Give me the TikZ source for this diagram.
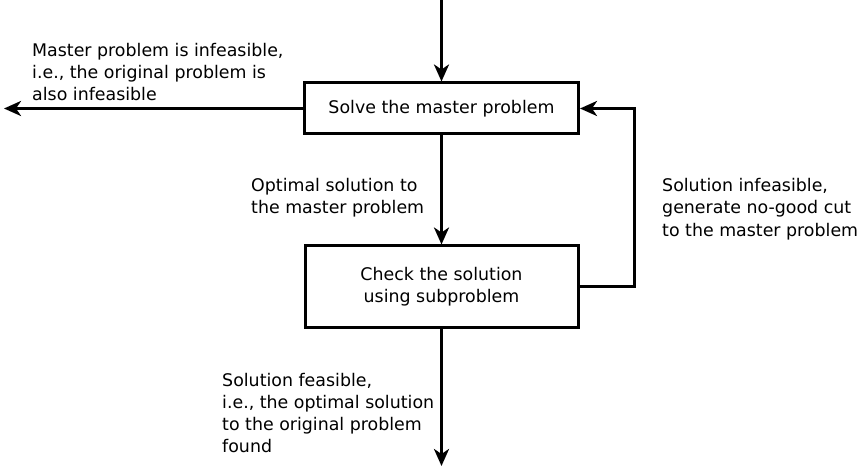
\documentclass[tikz,border=0pt]{standalone}
\usepackage{fontspec}
\setmainfont{DejaVu Sans}
\usetikzlibrary{arrows.meta}
\begin{document}
\begin{tikzpicture}[x=1pt,y=-1pt,
  every node/.style={font=\fontsize{17.4}{22.3}\selectfont},
  procbox/.style={draw,line width=3pt,align=center,inner sep=0pt},
  flow/.style={line width=3pt,-{Stealth[length=17pt,width=15pt,inset=5pt]}},
  note/.style={align=left,inner sep=0pt,anchor=west}]
\useasboundingbox (0,0) rectangle (860,470);
\node[procbox,minimum width=274pt,minimum height=51pt] (solve) at (441.5,108.5) {Solve the master problem};
\node[procbox,minimum width=273pt,minimum height=82pt] (check) at (441.5,287) {Check the solution\\using subproblem};
\coordinate (top) at (441.5,0);
\coordinate (left) at (4,108.5);
\coordinate (bottom) at (441.5,466);
\draw[flow] (top) -- (solve.north);
\draw[flow] (solve.west) -- (left);
\draw[flow] (solve.south) -- (check.north);
\draw[flow] (check.east) -- ++(55,0) |- (solve.east);
\draw[flow] (check.south) -- (bottom);
\node[note] (n1) at (32,72) {Master problem is infeasible,\\i.e., the original problem is\\also infeasible};
\node[note] (n2) at (251,198) {Optimal solution to\\the master problem};
\node[note] (n3) at (662,209) {Solution infeasible,\\generate no-good cut\\to the master problem};
\node[note] (n4) at (222,413) {Solution feasible,\\i.e., the optimal solution\\to the original problem\\found};
\end{tikzpicture}
\end{document}
